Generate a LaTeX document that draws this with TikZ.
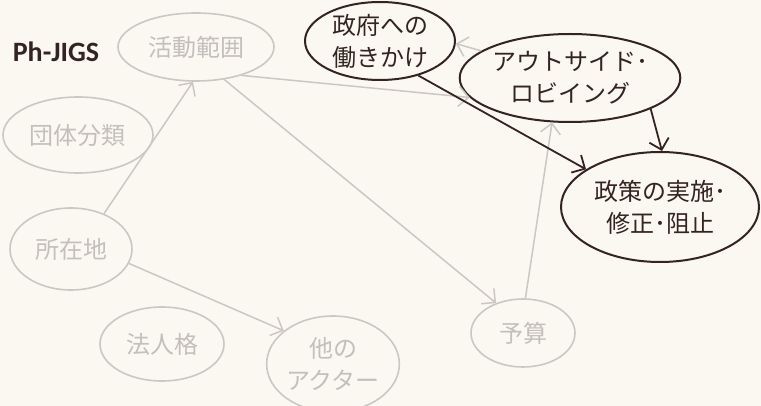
\documentclass[tikz,border=0pt]{standalone}
\usepackage{fontspec}
\setmainfont{Noto Sans CJK JP}
\newfontfamily\calfont{Carlito}
\usetikzlibrary{arrows.meta,shapes.geometric}
\definecolor{bgc}{RGB}{250,248,241}
\definecolor{lightc}{RGB}{204,199,195}
\definecolor{lighttext}{RGB}{196,191,188}
\definecolor{darkc}{RGB}{52,36,33}
\tikzset{
  light/.style={ellipse,draw=lightc,line width=1.6pt,text=lighttext,inner sep=0pt,align=center,font=\fontsize{24}{32}\selectfont},
  dark/.style={ellipse,draw=darkc,line width=2pt,text=darkc,inner sep=0pt,align=center,font=\fontsize{24}{32}\selectfont},
  lightarrow/.style={draw=lightc,line width=1.5pt,-{Straight Barb[length=10pt,width=20pt]}},
  darkarrow/.style={draw=darkc,line width=1.8pt,-{Straight Barb[length=10pt,width=20pt]}}
}
\begin{document}
\begin{tikzpicture}[x=1pt,y=-1pt]
\fill[bgc] (0,0) rectangle (761,406);
\useasboundingbox (0,0) rectangle (761,406);
\node[anchor=center,text=darkc,font=\calfont\bfseries\fontsize{28}{30}\selectfont] (title) at (56,52) {Ph-JIGS};
\node[light,minimum width=156pt,minimum height=68pt] (katsudo) at (196,47) {活動範囲};
\node[light,minimum width=150pt,minimum height=76pt] (dantai) at (78,135) {団体分類};
\node[light,minimum width=122pt,minimum height=82pt] (shozai) at (71,249) {所在地};
\node[light,minimum width=124pt,minimum height=74pt] (hojin) at (162,344) {法人格};
\node[light,minimum width=128pt,minimum height=96pt] (actor) at (333,364) {他の\\アクター};
\node[light,minimum width=104pt,minimum height=68pt] (yosan) at (523,333) {予算};
\node[dark,minimum width=150pt,minimum height=78pt] (seifu) at (380,41) {政府への\\働きかけ};
\node[dark,minimum width=184pt,minimum height=88pt] (outside) at (570,78) {アウトサイド･\\ロビイング};
\node[dark,minimum width=198pt,minimum height=110pt] (seisaku) at (660,207) {政策の実施･\\修正･阻止};
\draw[lightarrow] (shozai.47) -- (katsudo.265);
\draw[lightarrow] (shozai.-14) -- (actor.146);
\draw[lightarrow] (katsudo.-49) -- (yosan.132);
\draw[lightarrow] (katsudo.-32) -- (outside.191);
\draw[lightarrow] (yosan.86) -- (outside.248);
\draw[lightarrow] (outside.163) -- (seifu.-2);
\draw[darkarrow] (seifu.-42) -- (seisaku.153);
\draw[darkarrow] (outside.-21) -- (seisaku.88);
\end{tikzpicture}
\end{document}
